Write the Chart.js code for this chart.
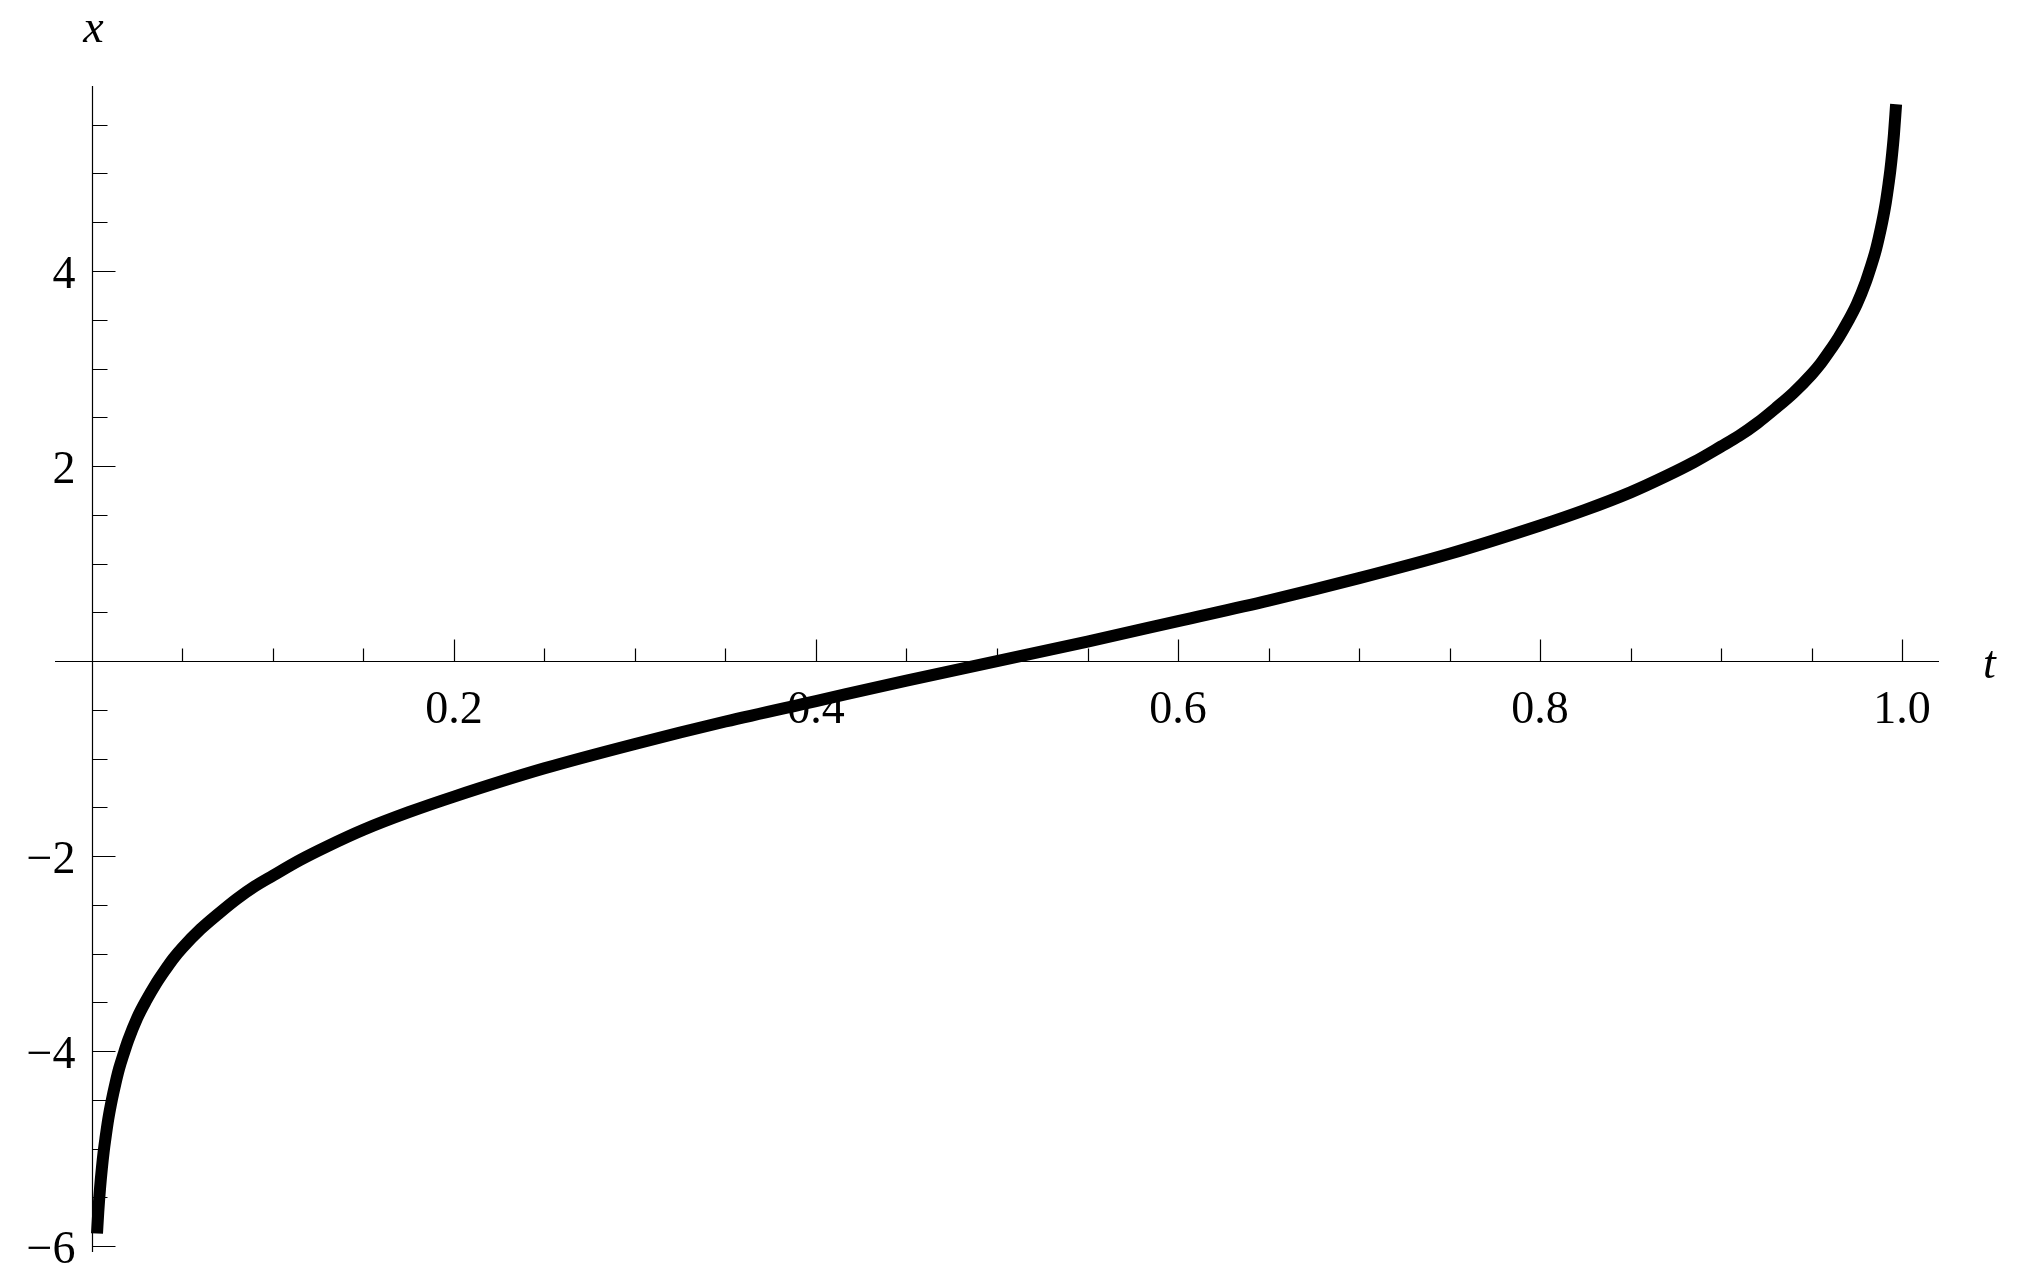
<!DOCTYPE html>
<html>
<head>
<meta charset="utf-8">
<title>x(t)</title>
<script src="https://cdn.jsdelivr.net/npm/chart.js@4.4.1/dist/chart.umd.min.js"></script>
<style>
  html, body { margin: 0; padding: 0; background: #fff; }
  #wrap { width: 2020px; height: 1281px; }
</style>
</head>
<body>
<div id="wrap"><canvas id="curveChart" width="2020" height="1281"></canvas></div>
<script>
// curve values
const tValues = [0.0028, 0.0035, 0.0045, 0.0055, 0.0065, 0.0075, 0.009, 0.011, 0.013, 0.015,
                 0.0175, 0.02, 0.025, 0.03, 0.035, 0.04, 0.045, 0.05, 0.06, 0.07,
                 0.08, 0.09, 0.1, 0.115, 0.13, 0.15, 0.175, 0.2, 0.25, 0.3,
                 0.35, 0.4, 0.45, 0.5, 0.55, 0.6, 0.65, 0.7, 0.75, 0.8,
                 0.825, 0.85, 0.87, 0.885, 0.9, 0.91, 0.92, 0.93, 0.94, 0.95,
                 0.955, 0.96, 0.965, 0.97, 0.975, 0.98, 0.9825, 0.985, 0.987, 0.989,
                 0.991, 0.9925, 0.9935, 0.9945, 0.9955, 0.9967];
const xValues = [-5.87, -5.65, -5.40, -5.20, -5.03, -4.89, -4.70, -4.50, -4.33, -4.18,
                 -4.03, -3.89, -3.66, -3.48, -3.32, -3.18, -3.05, -2.94, -2.75, -2.59,
                 -2.44, -2.31, -2.20, -2.04, -1.90, -1.73, -1.55, -1.39, -1.10, -0.85,
                 -0.62, -0.41, -0.20, 0.00, 0.20, 0.41, 0.62, 0.85, 1.10, 1.39,
                 1.55, 1.73, 1.90, 2.04, 2.20, 2.31, 2.44, 2.59, 2.75, 2.94,
                 3.05, 3.18, 3.32, 3.48, 3.66, 3.89, 4.03, 4.18, 4.33, 4.50,
                 4.70, 4.89, 5.03, 5.20, 5.40, 5.71];

// ticks
const tMajorTicks = [0.2, 0.4, 0.6, 0.8, 1.0];
const tTickLabels = ['0.2', '0.4', '0.6', '0.8', '1.0'];
const xMajorTicks = [-6, -4, -2, 2, 4];
const xTickLabels = ['\u22126', '\u22124', '\u22122', '2', '4'];
const tMinorStep = 0.05;
const xMinorStep = 0.5;

// axis titles
const tAxisTitle = 't';
const xAxisTitle = 'x';

const serif = '"Liberation Serif", "Times New Roman", serif';

// Mathematica style axes crossing at the origin, ticks pointing inwards
const mathAxes = {
    id: 'mathAxes',
    beforeDatasetsDraw(chart) {
        const { ctx, chartArea, scales } = chart;
        const sx = scales.x, sy = scales.y;
        const x0 = Math.round(sx.getPixelForValue(0)) + 0.5;
        const y0 = Math.round(sy.getPixelForValue(0)) + 0.5;
        const isMajor = (list, v) => list.some(m => Math.abs(m - v) < 1e-9);

        ctx.save();
        ctx.strokeStyle = '#000';
        ctx.lineWidth = 1.2;
        ctx.beginPath();
        ctx.moveTo(chartArea.left, y0);
        ctx.lineTo(chartArea.right, y0);
        ctx.moveTo(x0, chartArea.top);
        ctx.lineTo(x0, chartArea.bottom);

        // t axis ticks
        for (let i = Math.ceil(sx.min / tMinorStep); i * tMinorStep <= sx.max; i++) {
            if (i === 0) continue;
            const v = i * tMinorStep;
            const px = Math.round(sx.getPixelForValue(v)) + 0.5;
            ctx.moveTo(px, y0);
            ctx.lineTo(px, y0 - (isMajor(tMajorTicks, v) ? 22 : 13));
        }
        // x axis ticks
        for (let i = Math.ceil(sy.min / xMinorStep); i * xMinorStep <= sy.max; i++) {
            if (i === 0) continue;
            const v = i * xMinorStep;
            const py = Math.round(sy.getPixelForValue(v)) + 0.5;
            ctx.moveTo(x0, py);
            ctx.lineTo(x0 + (isMajor(xMajorTicks, v) ? 23 : 15), py);
        }
        ctx.stroke();

        ctx.fillStyle = '#000';
        ctx.font = '46px ' + serif;
        ctx.textBaseline = 'alphabetic';
        ctx.textAlign = 'center';
        tMajorTicks.forEach((v, i) => {
            ctx.fillText(tTickLabels[i], sx.getPixelForValue(v), y0 + 61);
        });
        ctx.textAlign = 'right';
        xMajorTicks.forEach((v, i) => {
            ctx.fillText(xTickLabels[i], x0 - 17, sy.getPixelForValue(v) + 17);
        });

        ctx.font = 'italic 46px ' + serif;
        ctx.textAlign = 'center';
        ctx.fillText(xAxisTitle, x0 + 1, chartArea.top - 44);
        ctx.textAlign = 'left';
        ctx.fillText(tAxisTitle, chartArea.right + 44, y0 + 16);
        ctx.restore();
    }
};

new Chart(document.getElementById('curveChart'), {
    type: 'line',
    data: {
        datasets: [{
            data: tValues.map((t, i) => ({ x: t, y: xValues[i] })),
            borderColor: '#000',
            borderWidth: 12,
            borderCapStyle: 'butt',
            borderJoinStyle: 'round',
            cubicInterpolationMode: 'monotone',
            pointRadius: 0,
            fill: false,
            clip: false
        }]
    },
    options: {
        responsive: false,
        animation: false,
        layout: { padding: { left: 55, right: 81, top: 86, bottom: 29 } },
        plugins: {
            legend: { display: false },
            tooltip: { enabled: false }
        },
        scales: {
            x: { type: 'linear', min: -0.0204, max: 1.0204, display: false },
            y: { type: 'linear', min: -6.06, max: 5.897, display: false }
        }
    },
    plugins: [mathAxes]
});
</script>
</body>
</html>
